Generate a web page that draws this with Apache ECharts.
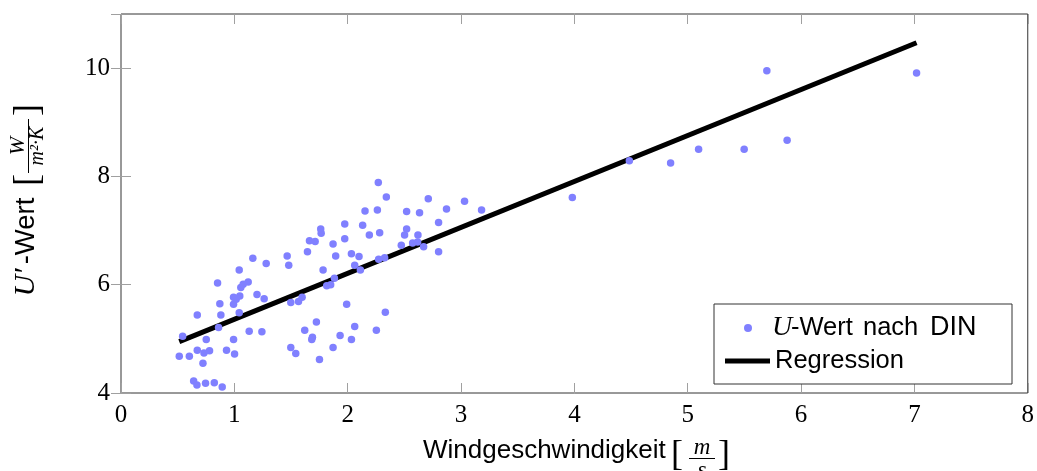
<!DOCTYPE html>
<html>
<head>
<meta charset="utf-8">
<script src="https://cdn.jsdelivr.net/npm/echarts@6/dist/echarts.min.js"></script>
<style>
html,body{margin:0;padding:0;background:#fff;}
#chart{width:1037px;height:471px;}
</style>
</head>
<body>
<div id="chart"></div>
<script>
// Wind speed [m/s]
const windX = [
  1.163,1.281,1.466,1.480,1.043,0.852,1.122,1.078,1.057,0.993,
  1.016,1.048,0.993,1.200,1.263,0.872,0.881,1.043,0.673,0.544,
  0.861,0.752,0.993,1.131,1.243,0.514,0.603,0.673,0.732,0.781,
  0.931,1.002,0.723,0.641,0.670,0.746,0.823,0.893,1.498,1.542,
  1.498,1.566,1.598,
  2.270,2.341,2.711,3.031,3.181,2.872,2.520,2.634,2.262,2.153,
  2.802,1.974,2.132,1.762,1.766,2.191,2.282,2.520,2.502,2.620,
  2.573,2.617,2.670,2.473,2.802,1.974,1.663,1.713,1.871,1.645,
  1.894,2.033,2.100,2.273,2.326,2.062,2.112,1.783,1.883,1.815,
  1.850,1.991,2.332,1.724,1.621,2.062,1.689,1.683,1.933,2.033,
  2.253,1.871,1.751,
  3.982,4.485,4.849,5.096,5.498,5.698,5.877,7.019
];
// U-value [W/(m^2 K)]
const uValue = [
  6.49,6.39,6.53,6.36,6.27,6.03,6.05,6.01,5.95,5.77,
  5.73,5.79,5.64,5.82,5.74,5.65,5.44,5.48,5.44,5.05,
  5.21,4.99,4.99,5.14,5.13,4.68,4.68,4.79,4.74,4.78,
  4.79,4.72,4.55,4.22,4.15,4.18,4.19,4.11,4.84,4.73,
  5.67,5.69,5.77,
  7.89,7.62,7.59,7.54,7.38,7.40,7.35,7.33,7.38,7.36,
  7.15,7.12,7.10,7.03,6.95,6.92,6.96,7.03,6.92,6.92,
  6.77,6.79,6.70,6.73,6.61,6.85,6.81,6.80,6.75,6.61,
  6.53,6.57,6.52,6.47,6.50,6.36,6.27,6.27,6.12,5.98,
  6.00,5.64,5.49,5.31,5.16,5.23,5.03,4.99,5.06,4.99,
  5.16,4.84,4.62,
  7.61,8.29,8.25,8.50,8.50,9.95,8.67,9.91
];
// Regression line end points
const regX = [0.514, 7.019];
const regY = [4.95, 10.47];

const xTicks = [0,1,2,3,4,5,6,7,8];
const yTicks = [4,6,8,10];

const scatterName = 'U-Wert nach DIN';
const lineName = 'Regression';

const scatterData = windX.map((x,i)=>[x, uValue[i]]);
const lineData = regX.map((x,i)=>[x, regY[i]]);

const serif = 'Liberation Serif';
const sans = 'Liberation Sans';
const tickColor = '#a0a0a0';
const frameColor = '#333333';

const chart = echarts.init(document.getElementById('chart'));

function axisCommon(extra){
  return Object.assign({
    type:'value',
    axisLine:{show:false},
    axisTick:{show:true, inside:true, length:10, lineStyle:{color:tickColor, width:1}},
    splitLine:{show:false}
  }, extra);
}

const legendText = {fontFamily:sans, fontSize:25.5, color:'#000',
  rich:{ sp:{width:15},
         i:{fontFamily:serif, fontStyle:'italic', fontSize:28, color:'#000', width:19},
         w:{fontFamily:sans, fontSize:25.5, color:'#000', width:72},
         n:{fontFamily:sans, fontSize:25.5, color:'#000', width:67},
         d:{fontFamily:sans, fontSize:27, color:'#000'} } };

chart.setOption({
  animation:false,
  backgroundColor:'#fff',
  grid:{left:121, right:8, top:14, bottom:78, show:true, borderColor:frameColor, borderWidth:1, backgroundColor:'transparent'},
  xAxis:[
    axisCommon({min:xTicks[0], max:xTicks[xTicks.length-1], interval:1, position:'bottom',
      axisLabel:{fontFamily:serif, fontSize:25, color:'#000', margin:10},
      name:'{t|Windgeschwindigkeit}{sp|}', nameLocation:'middle', nameGap:45,
      nameTextStyle:{rich:{t:{fontFamily:sans, fontSize:26, color:'#000'}, sp:{width:60}}}
    }),
    axisCommon({min:xTicks[0], max:xTicks[xTicks.length-1], interval:1, position:'top',
      axisLabel:{show:false}})
  ],
  yAxis:[
    axisCommon({min:yTicks[0], max:11, interval:2, position:'left',
      axisLabel:{fontFamily:serif, fontSize:25, color:'#000', margin:11, showMaxLabel:false},
      name:'{i|U′}{t|-Wert}{sp|}', nameLocation:'middle', nameGap:80, nameRotate:90,
      nameTextStyle:{rich:{i:{fontFamily:serif, fontStyle:'italic', fontSize:30, color:'#000', width:29},
                           t:{fontFamily:sans, fontSize:27.5, color:'#000', width:74}, sp:{width:84}}}
    }),
    axisCommon({min:yTicks[0], max:11, interval:2, position:'right',
      axisLabel:{show:false}})
  ],
  legend:[
    {data:[{name:scatterName, icon:'circle'}], left:744, top:314, padding:0,
     itemWidth:8, itemHeight:8, itemGap:0,
     formatter:()=> '{sp|}{i|U}{w|-Wert}{n|nach}{d|DIN}', textStyle:legendText},
    {data:[{name:lineName, icon:'rect'}], left:725, top:348, padding:0,
     itemWidth:45, itemHeight:5, itemGap:0,
     textStyle:{fontFamily:sans, fontSize:25.5, color:'#000'}}
  ],
  graphic:[
    {type:'rect', shape:{x:714, y:304, width:298, height:80}, z:1,
     style:{fill:'#fff', stroke:frameColor, lineWidth:1}},
    // x-axis unit fraction [m/s]
    {type:'text', x:677, y:456, style:{text:'[', font:'36px "Liberation Serif"', fill:'#000', align:'center', verticalAlign:'middle'}},
    {type:'text', x:702, y:448, style:{text:'m', font:'italic 23px "Liberation Serif"', fill:'#000', align:'center', verticalAlign:'middle'}},
    {type:'line', shape:{x1:689, y1:458.5, x2:715, y2:458.5}, style:{stroke:'#000', lineWidth:1}},
    {type:'text', x:702, y:471, style:{text:'s', font:'italic 23px "Liberation Serif"', fill:'#000', align:'center', verticalAlign:'middle'}},
    {type:'text', x:724, y:456, style:{text:']', font:'36px "Liberation Serif"', fill:'#000', align:'center', verticalAlign:'middle'}},
    // y-axis unit fraction [W/(m^2 K)]
    {type:'text', x:29, y:180, rotation:Math.PI/2, style:{text:'[', font:'36px "Liberation Serif"', fill:'#000', align:'center', verticalAlign:'middle'}},
    {type:'text', x:18, y:146, rotation:Math.PI/2, style:{text:'W', font:'italic 22px "Liberation Serif"', fill:'#000', align:'center', verticalAlign:'middle'}},
    {type:'line', shape:{x1:28.5, y1:119, x2:28.5, y2:173}, style:{stroke:'#000', lineWidth:1}},
    {type:'text', x:38, y:146, rotation:Math.PI/2, style:{text:'m²·K', font:'italic 20px "Liberation Serif"', fill:'#000', align:'center', verticalAlign:'middle'}},
    {type:'text', x:29, y:110, rotation:Math.PI/2, style:{text:']', font:'36px "Liberation Serif"', fill:'#000', align:'center', verticalAlign:'middle'}}
  ],
  series:[
    {name:lineName, type:'line', data:lineData, showSymbol:false, symbol:'none',
     lineStyle:{color:'#000', width:5}, itemStyle:{color:'#000'}, z:2},
    {name:scatterName, type:'scatter', data:scatterData, symbol:'circle', symbolSize:7.5,
     itemStyle:{color:'#8080ff', opacity:1}, z:3}
  ]
});
</script>
</body>
</html>
